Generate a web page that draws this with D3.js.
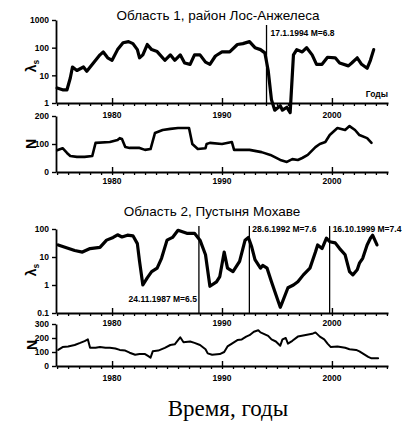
<!DOCTYPE html>
<html><head><meta charset="utf-8">
<script src="https://cdn.jsdelivr.net/npm/d3@7"></script>
<style>
body{margin:0;background:#fff;}
svg{display:block;}
text{font-family:"Liberation Sans",Arial,sans-serif;fill:#000;}
.tk{font-size:8.5px;font-weight:bold;}
</style></head>
<body>
<svg id="c" width="408" height="428"></svg>
<script>
// ---------- data ----------
const decadeTicks = [1980, 1990, 2000];
const lambdaTicks1 = [1, 10, 100, 1000];
const lambdaTicks2 = [0.1, 1, 10, 100];
const nTicks1 = [0, 100, 200];
const nTicks2 = [0, 100, 200, 300];

const years1 = [1975.0,1975.5,1975.9,1976.2,1976.4,1976.8,1977.4,1977.7,1978.3,1978.9,1979.2,1979.6,1980.0,1980.5,1981.0,1981.5,1981.9,1982.3,1982.5,1982.8,1983.2,1983.6,1984.1,1984.8,1985.3,1985.7,1986.2,1986.6,1987.1,1987.5,1988.0,1988.5,1988.9,1989.4,1990.0,1990.7,1991.4,1991.9,1992.5,1993.0,1993.5,1993.9,1994.2,1994.5,1994.8,1995.3,1995.5,1995.9,1996.2,1996.5,1996.8,1997.3,1997.7,1998.2,1998.6,1999.1,1999.6,2000.3,2000.7,2001.5,2001.8,2002.3,2002.7,2003.2,2003.5,2003.8];
const lambda1 = [3.5,3.0,3.0,8,20,15,20,14,28,55,70,43,35,85,150,165,140,85,43,55,130,85,72,35,55,35,55,28,25,55,55,30,25,50,70,70,130,140,165,100,85,65,15,1.3,0.55,0.8,0.55,0.7,0.45,55,85,70,100,55,25,25,45,43,28,22,28,43,25,18,35,85];

const yearsN1 = [1975.0,1975.5,1975.9,1976.2,1976.8,1977.5,1978.2,1978.5,1979.8,1980.5,1980.7,1980.9,1981.2,1981.6,1982.5,1983.0,1983.5,1983.6,1983.9,1984.6,1985.3,1986.0,1987.0,1987.3,1987.8,1988.5,1988.6,1988.9,1990.0,1990.9,1991.1,1992.5,1993.6,1994.4,1995.3,1995.9,1996.4,1996.9,1997.3,1997.8,1998.5,1998.9,1999.4,1999.8,2000.5,2001.2,2001.6,2002.1,2002.5,2003.2,2003.6];
const n1 = [78,85,68,57,54,54,57,104,107,114,121,118,89,86,86,79,82,96,139,150,154,157,157,100,82,85,100,104,100,107,79,79,71,61,43,36,46,43,50,61,89,100,107,132,157,150,164,150,132,121,104];

const years2 = [1975.1,1976.6,1977.3,1978.0,1978.9,1979.5,1980.1,1980.5,1980.9,1981.4,1981.9,1982.3,1982.5,1982.8,1983.2,1983.6,1984.1,1984.5,1985.0,1985.5,1986.0,1986.8,1987.5,1988.0,1988.5,1988.9,1989.5,1989.8,1990.2,1990.5,1991.0,1991.6,1992.1,1992.4,1992.7,1993.0,1993.5,1993.7,1994.1,1994.5,1995.0,1995.3,1995.5,1996.0,1996.5,1996.9,1997.4,1998.0,1998.5,1998.7,1999.1,1999.5,1999.8,2000.3,2000.7,2001.2,2001.6,2001.9,2002.3,2002.5,2002.8,2003.2,2003.5,2003.7,2004.1];
const lambda2 = [27,17,15,20,22,40,50,62,52,60,57,30,7,1,1.8,3,4,9,40,50,90,70,70,40,12,0.9,1.3,2,15,4,3,7,40,50,23,8,4,5,4,1.3,0.35,0.16,0.25,0.8,1,1.3,2.3,4,15,27,20,47,35,32,20,12,3,2.3,3.5,6,9,27,47,60,27];

const yearsN2 = [1975.1,1975.5,1976.0,1976.6,1977.1,1977.5,1977.8,1978.0,1978.5,1978.9,1979.4,1979.8,1980.3,1980.7,1981.2,1981.6,1982.1,1982.5,1983.0,1983.3,1983.5,1983.7,1984.2,1984.8,1985.3,1985.7,1986.0,1986.2,1986.5,1987.1,1987.5,1988.0,1988.5,1988.7,1989.1,1989.8,1990.2,1990.5,1990.9,1991.4,1991.8,1992.2,1992.5,1992.9,1993.3,1993.5,1993.8,1994.2,1994.5,1994.9,1995.3,1995.5,1995.8,1996.0,1996.4,1996.9,1997.5,1998.2,1998.5,1998.9,1999.3,1999.6,1999.9,2000.5,2001.2,2001.6,2002.2,2002.5,2002.9,2003.3,2003.6,2004.2];
const n2 = [115,135,140,150,165,178,190,130,130,135,130,130,125,115,110,95,80,85,85,70,60,105,110,130,150,155,185,205,170,175,165,150,120,90,80,85,100,140,160,185,190,210,220,245,255,240,230,215,190,175,145,190,200,160,180,210,220,230,240,210,190,160,135,140,130,120,115,105,85,65,55,55];

const quakes1 = [{year:1994.05, label:"17.1.1994 M=6.8"}];
const quakes2 = [{year:1987.9, label:"24.11.1987 M=6.5"},{year:1992.49, label:"28.6.1992 M=7.6"},{year:1999.79, label:"16.10.1999 M=7.4"}];

// ---------- drawing ----------
const svg = d3.select("#c");
const x = d3.scaleLinear().domain([1974.9, 2005.1]).range([56, 388]);
const allYears = d3.range(1975, 2006);

function xAxis(y0, labelDy) {
  const g = svg.append("g");
  g.append("g").attr("transform", `translate(0,${y0})`)
    .call(d3.axisBottom(x).tickValues(allYears).tickSize(3).tickFormat("").tickSizeOuter(0))
    .call(s => s.select(".domain").attr("stroke-width", 1.8))
    .call(s => s.selectAll(".tick line").attr("stroke-width", 1.3));
  g.append("g").attr("transform", `translate(0,${y0})`)
    .call(d3.axisTop(x).tickValues(decadeTicks).tickSize(5).tickFormat(""))
    .call(s => s.select(".domain").remove())
    .call(s => s.selectAll(".tick line").attr("stroke-width", 1.4));
  g.selectAll("text.xl").data(decadeTicks).join("text")
    .attr("class", "tk xl").attr("x", d => x(d)).attr("y", y0 + labelDy)
    .attr("text-anchor", "middle").text(d => d);
}

function yAxis(scale, ticks, fmt) {
  svg.append("g").attr("transform", `translate(56,0)`)
    .call(d3.axisLeft(scale).tickValues(ticks).tickSize(4).tickFormat(fmt).tickSizeOuter(0).tickPadding(3))
    .call(s => s.select(".domain").attr("stroke-width", 1.8))
    .call(s => s.selectAll(".tick line").attr("stroke-width", 1.4))
    .call(s => s.selectAll("text").attr("class", "tk").attr("font-family", null).attr("font-size", null));
}

function yTitle(xp, yp, main, sub) {
  const t = svg.append("text").attr("transform", `translate(${xp},${yp}) rotate(-90)`)
    .attr("text-anchor", "middle").attr("font-size", 14).attr("font-weight", "bold");
  t.append("tspan").text(main);
  if (sub) t.append("tspan").attr("font-size", 8.5).attr("dy", 3).text(sub);
}

function line(scale, xs, ys, w) {
  svg.append("path")
    .datum(xs.map((d, i) => [d, ys[i]]))
    .attr("fill", "none").attr("stroke", "#000").attr("stroke-width", w)
    .attr("stroke-linejoin", "round").attr("stroke-linecap", "round")
    .attr("d", d3.line().x(d => x(d[0])).y(d => scale(d[1])));
}

const fmtLog = d => d >= 1 ? d3.format("d")(d) : d;

// ---- Panel 1 ----
const yL1 = d3.scaleLog().domain([1, 1000]).range([103, 20]);
const yN1 = d3.scaleLinear().domain([0, 200]).range([172, 116]);
svg.append("text").attr("x", 218).attr("y", 20).attr("text-anchor", "middle")
  .attr("font-size", 13.5).text("Область 1, район Лос-Анжелеса");
yAxis(yL1, lambdaTicks1, fmtLog);
xAxis(103, 15);
yTitle(36, 66, "λ", "s");
svg.append("text").attr("class","tk").attr("x", 388).attr("y", 97).attr("text-anchor","end").attr("font-size",7).text("Годы");
quakes1.forEach(q => {
  svg.append("line").attr("x1", x(q.year)).attr("x2", x(q.year)).attr("y1", 25).attr("y2", 103).attr("stroke", "#000").attr("stroke-width", 1.3);
  svg.append("text").attr("class","tk").attr("x", x(q.year) + 4).attr("y", 36).text(q.label);
});
line(yL1, years1, lambda1, 3.2);

yAxis(yN1, nTicks1, d3.format("d"));
xAxis(172, 12);
yTitle(36, 144, "N");
line(yN1, yearsN1, n1, 2.6);

// ---- Panel 2 ----
const yL2 = d3.scaleLog().domain([0.1, 100]).range([313, 229]);
const yN2 = d3.scaleLinear().domain([0, 300]).range([366, 324]);
svg.append("text").attr("x", 212).attr("y", 216).attr("text-anchor", "middle")
  .attr("font-size", 13.5).text("Область 2, Пустыня Мохаве");
yAxis(yL2, lambdaTicks2, fmtLog);
xAxis(313, 13);
yTitle(36, 270, "λ", "s");
quakes2.forEach((q, i) => {
  svg.append("line").attr("x1", x(q.year)).attr("x2", x(q.year)).attr("y1", 226).attr("y2", 313).attr("stroke", "#000").attr("stroke-width", 1.3);
  if (i === 0) {
    svg.append("text").attr("class","tk").attr("x", x(q.year) - 2).attr("y", 302).attr("text-anchor","end").text(q.label);
  } else {
    svg.append("text").attr("class","tk").attr("x", x(q.year) + 3).attr("y", 232).text(q.label);
  }
});
line(yL2, years2, lambda2, 3.2);

yAxis(yN2, nTicks2, d3.format("d"));
xAxis(366, 15);
yTitle(37, 345, "N");
line(yN2, yearsN2, n2, 2);

svg.append("text").attr("x", 228).attr("y", 416).attr("text-anchor", "middle")
  .style("font-family", "'Liberation Serif','Times New Roman',serif").attr("font-size", 23)
  .text("Время, годы");
</script>
</body></html>
